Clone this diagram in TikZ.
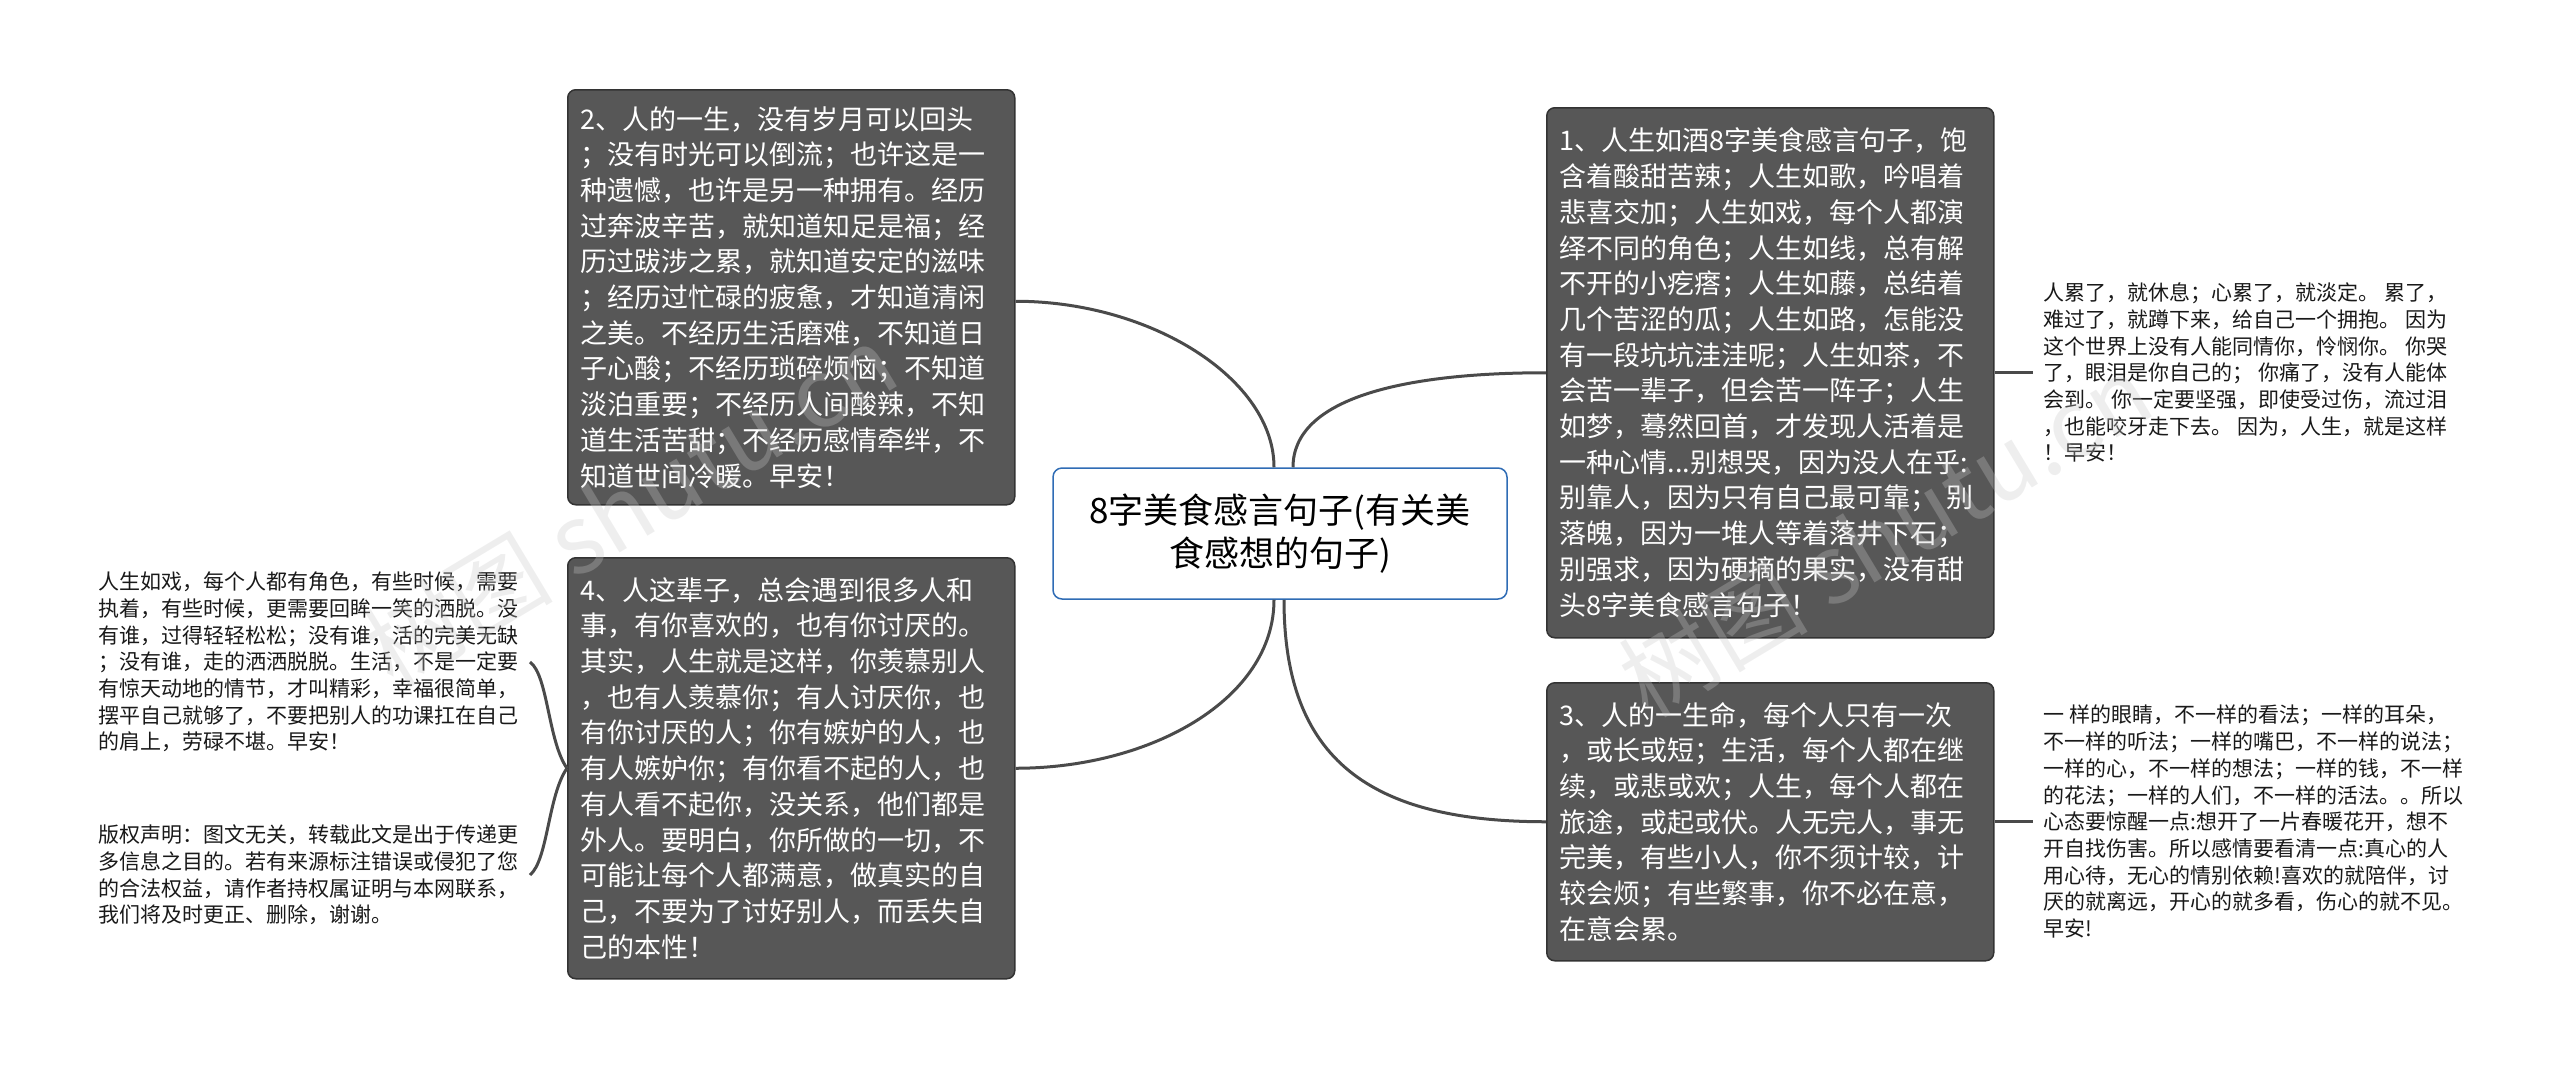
\documentclass[tikz,border=0pt]{standalone}
\usepackage{fontspec}
\setmainfont{Noto Sans CJK SC}
\usepackage{tikz}
\usetikzlibrary{positioning}
\definecolor{boxgray}{HTML}{575757}
\definecolor{boxedge}{HTML}{333333}
\definecolor{linkgray}{HTML}{4A4A4A}
\definecolor{rootblue}{HTML}{2F6CB5}
\definecolor{markgray}{HTML}{C8C8C8}

\begin{document}
\begin{tikzpicture}[x=1pt,y=-1pt,
  topic/.style={draw=boxedge,fill=boxgray,text=white,line width=1.5pt,rounded corners=8pt,anchor=north west,text width=421pt,inner xsep=13pt,align=left,font={\fontsize{27pt}{35.7pt}\selectfont}},
  leaf/.style={text=black!90,align=left,inner xsep=11pt,inner ysep=4pt,font={\fontsize{21pt}{26.7pt}\selectfont}},
  link/.style={draw=linkgray,line width=3pt},
  watermark/.style={text=markgray,text opacity=0.3,rotate=31,font={\fontsize{95pt}{95pt}\selectfont}}]
\useasboundingbox (0,0) rectangle (2560,1069);

\node [draw=rootblue,fill=white,line width=1.5pt,rounded corners=9pt,minimum width=454pt,minimum height=131pt,align=center,font={\fontsize{35pt}{43pt}\selectfont}] (root) at (1280,533.5) {8字美食感言句子(有关美\\食感想的句子)};

\node [topic,minimum height=415pt] (b2) at (567,89) {2、人的一生，没有岁月可以回头\\；没有时光可以倒流；也许这是一\\种遗憾，也许是另一种拥有。经历\\过奔波辛苦，就知道知足是福；经\\历过跋涉之累，就知道安定的滋味\\；经历过忙碌的疲惫，才知道清闲\\之美。不经历生活磨难，不知道日\\子心酸；不经历琐碎烦恼；不知道\\淡泊重要；不经历人间酸辣，不知\\道生活苦甜；不经历感情牵绊，不\\知道世间冷暖。早安！};
\node [topic,minimum height=421pt] (b4) at (567,557) {4、人这辈子，总会遇到很多人和\\事，有你喜欢的，也有你讨厌的。\\其实，人生就是这样，你羡慕别人\\，也有人羡慕你；有人讨厌你，也\\有你讨厌的人；你有嫉妒的人，也\\有人嫉妒你；有你看不起的人，也\\有人看不起你，没关系，他们都是\\外人。要明白，你所做的一切，不\\可能让每个人都满意，做真实的自\\己，不要为了讨好别人，而丢失自\\己的本性！};
\node [topic,minimum height=530pt] (b1) at (1546,107) {1、人生如酒8字美食感言句子，饱\\含着酸甜苦辣；人生如歌，吟唱着\\悲喜交加；人生如戏，每个人都演\\绎不同的角色；人生如线，总有解\\不开的小疙瘩；人生如藤，总结着\\几个苦涩的瓜；人生如路，怎能没\\有一段坑坑洼洼呢；人生如茶，不\\会苦一辈子，但会苦一阵子；人生\\如梦，蓦然回首，才发现人活着是\\一种心情...别想哭，因为没人在乎:\\别靠人，因为只有自己最可靠；~别\\落魄，因为一堆人等着落井下石；\\别强求，因为硬摘的果实，没有甜\\头8字美食感言句子！};
\node [topic,minimum height=278pt] (b3) at (1546,682) {3、人的一生命，每个人只有一次\\，或长或短；生活，每个人都在继\\续，或悲或欢；人生，每个人都在\\旅途，或起或伏。人无完人，事无\\完美，有些小人，你不须计较，计\\较会烦；有些繁事，你不必在意，\\在意会累。};

\node [leaf,anchor=east] (l1) at (530,662) {人生如戏，每个人都有角色，有些时候，需要\\执着，有些时候，更需要回眸一笑的洒脱。没\\有谁，过得轻轻松松；没有谁，活的完美无缺\\；没有谁，走的洒洒脱脱。生活，不是一定要\\有惊天动地的情节，才叫精彩，幸福很简单，\\摆平自己就够了，不要把别人的功课扛在自己\\的肩上，劳碌不堪。早安！};
\node [leaf,anchor=east] (l2) at (530,875) {版权声明：图文无关，转载此文是出于传递更\\多信息之目的。若有来源标注错误或侵犯了您\\的合法权益，请作者持权属证明与本网联系，\\我们将及时更正、删除，谢谢。};
\node [leaf,right=38pt of b1] (r1) {人累了，就休息；心累了，就淡定。 累了，\\难过了，就蹲下来，给自己一个拥抱。 因为\\这个世界上没有人能同情你，怜悯你。 你哭\\了，眼泪是你自己的； 你痛了，没有人能体\\会到。 你一定要坚强，即使受过伤，流过泪\\，也能咬牙走下去。 因为，人生，就是这样\\！早安！};
\node [leaf,right=38pt of b3] (r2) {一 样的眼睛，不一样的看法；一样的耳朵，\\不一样的听法；一样的嘴巴，不一样的说法；\\一样的心，不一样的想法；一样的钱，不一样\\的花法；一样的人们，不一样的活法。。所以\\心态要惊醒一点:想开了一片春暖花开，想不\\开自找伤害。所以感情要看清一点:真心的人\\用心待，无心的情别依赖!喜欢的就陪伴，讨\\厌的就离远，开心的就多看，伤心的就不见。\\早安!};

\draw [link] ([xshift=-6pt]root.north) .. controls +(0,-88) and +(136,0) .. ([yshift=-4pt]b2.east);
\draw [link] ([xshift=13pt]root.north) .. controls +(0,-68) and +(-146,0) .. (b1.west);
\draw [link] ([xshift=-6pt]root.south) .. controls +(0,99) and +(136,0) .. (b4.east);
\draw [link] ([xshift=4pt]root.south) .. controls +(0,160) and +(-176,0) .. (b3.west);
\draw [link] (b4.west) .. controls +(-19,-27) and +(18,13) .. (l1.east);
\draw [link] (b4.west) .. controls +(-19,27) and +(18,-15) .. (l2.east);
\draw [link] (b1.east) -- (r1.west);
\draw [link] (b3.east) -- (r2.west);

\node [watermark] (wm1) at (630,505) {树图 shutu.cn};
\node [watermark] (wm2) at (1885,535) {树图 shutu.cn};
\end{tikzpicture}
\end{document}
